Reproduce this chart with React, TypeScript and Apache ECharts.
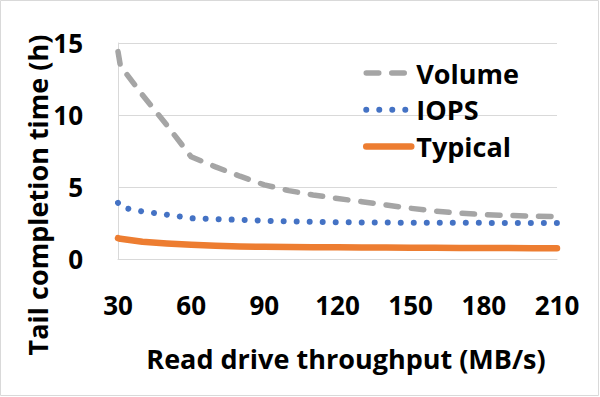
import React, { useEffect, useRef } from "react";
import * as echarts from "echarts";

const xValues = [30, 31, 40, 50, 60, 70, 80, 90, 100, 110, 120, 130, 140, 150, 160, 170, 180, 190, 200, 210];
const volume = [14.4, 13.4, 11.4, 9.3, 7.1, 6.4, 5.75, 5.15, 4.75, 4.45, 4.2, 3.98, 3.75, 3.52, 3.33, 3.18, 3.08, 3.03, 2.98, 2.94];
const iops = [3.9, 3.6, 3.3, 3.08, 2.83, 2.77, 2.72, 2.66, 2.61, 2.58, 2.55, 2.54, 2.53, 2.52, 2.52, 2.51, 2.51, 2.5, 2.5, 2.5];
const typical = [1.45, 1.4, 1.2, 1.08, 0.99, 0.92, 0.87, 0.85, 0.83, 0.82, 0.81, 0.8, 0.79, 0.78, 0.78, 0.77, 0.76, 0.76, 0.75, 0.75];
const seriesNames = ["Volume", "IOPS", "Typical"];
const xTitle = "Read drive throughput (MB/s)";
const yTitle = "Tail completion time (h)";

const FONT = "'Open Sans', sans-serif";

const styles = [
  { color: "#A5A5A5", width: 5.5, type: [12.5, 13] as any, z: 3 },
  { color: "#4472C4", width: 6, type: [0.01, 13] as any, z: 4 },
  { color: "#ED7D31", width: 6.5, type: "solid" as any, z: 5 },
];
const values = [volume, iops, typical];

function pairs(ys: number[]) {
  return xValues.map((x, i) => [x, ys[i]]);
}

export default function App() {
  const ref = useRef<HTMLDivElement>(null);
  useEffect(() => {
    if (!ref.current) return;
    const chart = echarts.init(ref.current, undefined, { renderer: "svg" });
    chart.setOption({
      animation: false,
      backgroundColor: "#fff",
      textStyle: { fontFamily: FONT },
      grid: { left: 118, right: 43, top: 43, bottom: 138, containLabel: false },
      xAxis: {
        type: "value",
        min: 30,
        max: 210,
        interval: 30,
        axisLine: { show: true, lineStyle: { color: "#D9D9D9", width: 1 } },
        axisTick: { show: false },
        splitLine: { show: false },
        axisLabel: { margin: 33, fontSize: 26, fontWeight: "bold", color: "#000", fontFamily: FONT },
      },
      yAxis: {
        type: "value",
        min: 0,
        max: 15,
        interval: 5,
        axisLine: { show: true, lineStyle: { color: "#D9D9D9", width: 1 } },
        axisTick: { show: false },
        splitLine: { show: true, lineStyle: { color: "#D9D9D9", width: 1 } },
        axisLabel: { margin: 35, fontSize: 26, fontWeight: "bold", color: "#000", fontFamily: FONT },
      },
      legend: {
        data: seriesNames.map((name, i) => ({
          name,
          lineStyle: { width: styles[i].width, type: styles[i].type, cap: "round", color: styles[i].color },
        })),
        orient: "vertical",
        left: 363,
        top: 58,
        padding: 0,
        itemWidth: 45,
        itemHeight: 30,
        itemGap: 6.7,
        itemStyle: { opacity: 0 },
        textStyle: { fontSize: 27, fontWeight: "bold", color: "#000", fontFamily: FONT, lineHeight: 30 },
      },
      series: seriesNames.map((name, i) => ({
        name,
        type: "line",
        symbol: "none",
        showSymbol: false,
        data: pairs(values[i]),
        lineStyle: { color: styles[i].color, width: styles[i].width, type: styles[i].type, cap: "round", join: "round" },
        itemStyle: { color: styles[i].color },
        z: styles[i].z,
      })),
      graphic: [
        {
          type: "rect",
          shape: { x: 0.5, y: 0.5, width: 598, height: 395 },
          style: { fill: "none", stroke: "#D9D9D9", lineWidth: 1 },
          silent: true,
        },
        {
          type: "text",
          x: 346,
          y: 358,
          style: {
            text: xTitle,
            fontSize: 27,
            fontWeight: "bold",
            fontFamily: FONT,
            fill: "#000",
            align: "center",
            verticalAlign: "middle",
          },
        },
        {
          type: "text",
          x: 37,
          y: 195,
          rotation: Math.PI / 2,
          style: {
            text: yTitle,
            fontSize: 27,
            fontWeight: "bold",
            fontFamily: FONT,
            fill: "#000",
            align: "center",
            verticalAlign: "middle",
          },
        },
      ],
    });
    return () => chart.dispose();
  }, []);
  return <div ref={ref} style={{ position: "fixed", left: 0, top: 0, width: 600, height: 397 }} />;
}
